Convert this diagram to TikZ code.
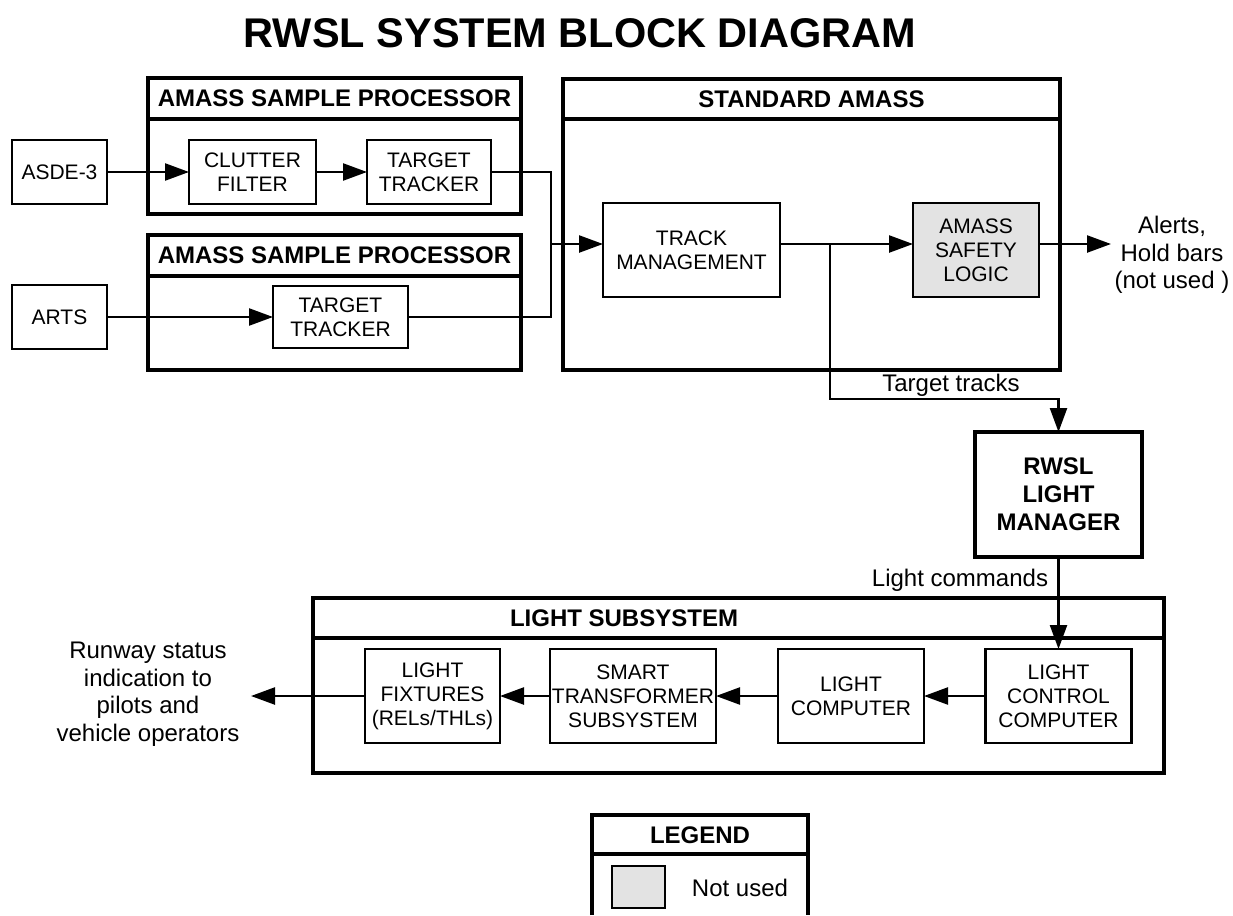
\documentclass[tikz,border=0pt]{standalone}
\usepackage{fontspec}
\setmainfont{Liberation Sans}
\usetikzlibrary{arrows.meta,calc}
\begin{document}
\begin{tikzpicture}[x=1pt,y=-1pt,
  box/.style={draw, line width=2.4pt, inner sep=0pt, outer sep=0pt, align=center, font=\fontsize{21}{24}\selectfont},
  outerbox/.style={draw, line width=3.4pt, inner sep=0pt, outer sep=0pt},
  divline/.style={line width=3.4pt},
  hdr/.style={font=\fontsize{24}{27}\selectfont\bfseries, inner sep=0pt},
  lbl/.style={font=\fontsize{24}{27.5}\selectfont, align=center, inner sep=0pt},
  conn/.style={line width=2.4pt},
  arr/.style={conn, -{Triangle[length=24pt,width=17pt]}},
  unused/.style={fill=black!11}]
\useasboundingbox (0,0) rectangle (1233,915);
\fill[white] (0,0) rectangle (1233,915);

% title
\node[font=\fontsize{41.5}{45}\selectfont\bfseries, inner sep=0pt] (title) at (580,33) {RWSL SYSTEM BLOCK DIAGRAM};

% containers
\node[outerbox, minimum width=373pt, minimum height=136pt] (asp1) at (334.5,146) {};
\draw[divline] ($(asp1.north west)+(0,41)$) -- ($(asp1.north east)+(0,41)$);
\node[hdr] (asp1h) at (334.5,98.5) {AMASS SAMPLE PROCESSOR};

\node[outerbox, minimum width=373pt, minimum height=135pt] (asp2) at (334.5,302.5) {};
\draw[divline] ($(asp2.north west)+(0,41)$) -- ($(asp2.north east)+(0,41)$);
\node[hdr] (asp2h) at (334.5,255.5) {AMASS SAMPLE PROCESSOR};

\node[outerbox, minimum width=497pt, minimum height=291pt] (sa) at (811.5,224.5) {};
\draw[divline] ($(sa.north west)+(0,40)$) -- ($(sa.north east)+(0,40)$);
\node[hdr] (sah) at (811.5,99) {STANDARD AMASS};

\node[outerbox, minimum width=851pt, minimum height=175pt] (ls) at (738.5,685.5) {};
\draw[divline] ($(ls.north west)+(0,40)$) -- ($(ls.north east)+(0,40)$);
\node[hdr] (lsh) at (624,618) {LIGHT SUBSYSTEM};

% blocks
\node[box, minimum width=95pt, minimum height=64pt] (asde) at (59.5,172) {ASDE-3};
\node[box, minimum width=95pt, minimum height=64pt] (arts) at (59.5,317) {ARTS};
\node[box, minimum width=127pt, minimum height=64pt] (clutter) at (252.5,172) {CLUTTER\\FILTER};
\node[box, minimum width=124pt, minimum height=64pt] (tt1) at (429,172) {TARGET\\TRACKER};
\node[box, minimum width=135pt, minimum height=62pt] (tt2) at (340.5,317) {TARGET\\TRACKER};
\node[box, minimum width=177pt, minimum height=94pt] (tm) at (691.5,250) {TRACK\\MANAGEMENT};
\node[box, unused, minimum width=126pt, minimum height=94pt] (asl) at (976,250) {AMASS\\SAFETY\\LOGIC};
\node[box, line width=3.4pt, font=\fontsize{24}{28}\selectfont\bfseries, minimum width=167pt, minimum height=125pt] (rwsl) at (1058.5,494.5) {RWSL\\LIGHT\\MANAGER};
\node[box, minimum width=135pt, minimum height=94pt] (lf) at (432.5,696) {LIGHT\\FIXTURES\\(RELs/THLs)};
\node[box, minimum width=166pt, minimum height=94pt] (sts) at (633,696) {SMART\\TRANSFORMER\\SUBSYSTEM};
\node[box, minimum width=146pt, minimum height=94pt] (lc) at (851,696) {LIGHT\\COMPUTER};
\node[box, minimum width=146pt, minimum height=94pt] (lcc) at (1058.5,696) {LIGHT\\CONTROL\\COMPUTER};

% connectors
\coordinate (j) at (551,244);
\coordinate (b) at (830,244);
\coordinate (tk) at (1058.5,399);
\coordinate (alertend) at (1111,244);
\coordinate (rwend) at (251,696);
\draw[arr] (asde.east) -- (clutter.west);
\draw[arr] (clutter.east) -- (tt1.west);
\draw[arr] (arts.east) -- (tt2.west);
\draw[conn] (tt1.east) -| (j);
\draw[conn] (tt2.east) -| (j);
\draw[arr] (j) -- (j -| tm.west);
\draw[arr] (j -| tm.east) -- (j -| asl.west);
\draw[arr] (j -| asl.east) -- (alertend);
\draw[arr] (b) |- (tk) -- (rwsl.north);
\draw[arr] (rwsl.south) -- (lcc.north);
\draw[arr] (lcc.west) -- (lc.east);
\draw[arr] (lc.west) -- (sts.east);
\draw[arr] (sts.west) -- (lf.east);
\draw[arr] (lf.west) -- (rwend);

% labels
\node[lbl] (alerts) at (1172,255) {Alerts,\\Hold bars\\(not used )};
\node[lbl] (runway) at (148,694) {Runway status\\indication to\\pilots and\\vehicle operators};
\node[lbl] (ttlbl) at (951,385) {Target tracks};
\node[lbl] (lcmd) at (960,580) {Light commands};

% legend
\draw[divline] (592,915) -- (592,815) -- (808,815) -- (808,915);
\draw[divline] (592,854) -- (808,854);
\node[hdr] (legh) at (700,835) {LEGEND};
\node[draw, line width=2.4pt, unused, inner sep=0pt, minimum width=53pt, minimum height=42pt] (swatch) at (638.5,887) {};
\node[lbl] (notused) at (740,888) {Not used};
\end{tikzpicture}
\end{document}
